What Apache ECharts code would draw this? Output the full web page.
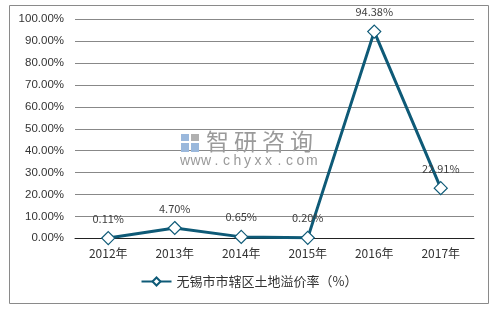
<!DOCTYPE html>
<html><head><meta charset="utf-8">
<script src="https://cdn.jsdelivr.net/npm/echarts@6/dist/echarts.min.js"></script>
<style>html,body{margin:0;padding:0;background:#fff}#c{width:498px;height:310px}</style>
</head><body><div id="c"></div>
<script>
const categories = ['2012年','2013年','2014年','2015年','2016年','2017年'];
const values = [0.11, 4.70, 0.65, 0.20, 94.38, 22.91];
const seriesName = '无锡市市辖区土地溢价率（%）';
const yTicks = {min: 0, max: 100, interval: 10};

const chart = echarts.init(document.getElementById('c'));
const font = '"Noto Sans CJK SC", "Microsoft YaHei", sans-serif';

// watermark (decoration)
const wm = [
  {type: 'rect', shape: {x: 9.5, y: 5.5, width: 479, height: 298}, style: {fill: 'none', stroke: '#8a8a8a', lineWidth: 1}, z: 0},
  {type: 'rect', shape: {x: 181, y: 134, width: 8, height: 7}, style: {fill: '#9ab8dc'}, z: 1},
  {type: 'rect', shape: {x: 181, y: 143, width: 8, height: 9}, style: {fill: '#9ab8dc'}, z: 1},
  {type: 'rect', shape: {x: 191, y: 134, width: 8, height: 7}, style: {fill: '#b0b0b0'}, z: 1},
  {type: 'rect', shape: {x: 191, y: 143, width: 8, height: 9}, style: {fill: '#9ab8dc'}, z: 1}
];
'智研咨询'.split('').forEach((ch, i) => wm.push({type: 'text', x: 206 + i * 28, y: 130, style: {text: ch, font: '23px ' + font, fill: '#9a9a9a'}, z: 1}));
'www.chyxx.com'.split('').forEach((ch, i) => wm.push({type: 'text', x: 181 + i * 10.5 + (ch === '.' ? 2 : 0) - (ch === 'w' || ch === 'm' ? 1 : 0), y: 154, style: {text: ch, font: '14px "Liberation Sans", sans-serif', fill: '#9a9a9a'}, z: 1}));

chart.setOption({
  animation: false,
  textStyle: {fontFamily: font},
  grid: {left: 75, right: 24, top: 19.3, bottom: 71.7},
  graphic: wm,
  legend: {
    bottom: 17, left: 'center',
    itemWidth: 30, itemHeight: 10, itemGap: 10,
    textStyle: {fontSize: 13, color: '#333'},
    data: [seriesName]
  },
  xAxis: {
    type: 'category', data: categories, boundaryGap: true,
    axisLine: {lineStyle: {color: '#222', width: 1}},
    axisTick: {show: false},
    axisLabel: {fontSize: 12, color: '#333', margin: 9}
  },
  yAxis: {
    type: 'value', min: yTicks.min, max: yTicks.max, interval: yTicks.interval,
    axisLine: {show: false}, axisTick: {show: false},
    axisLabel: {fontSize: 11.5, color: '#333', margin: 11, fontFamily: '"Liberation Sans", Arial, sans-serif', formatter: v => v.toFixed(2) + '%'},
    splitLine: {lineStyle: {color: '#888', width: 1}}
  },
  series: [{
    name: seriesName, type: 'line', data: values,
    symbol: 'diamond', symbolSize: 13,
    lineStyle: {color: '#0e5a77', width: 3},
    itemStyle: {color: '#fff', borderColor: '#0e5a77', borderWidth: 1.2},
    label: {show: true, position: 'top', distance: 7, fontSize: 11, color: '#404040', formatter: p => p.value.toFixed(2) + '%'},
    z: 3
  }]
});
</script></body></html>
